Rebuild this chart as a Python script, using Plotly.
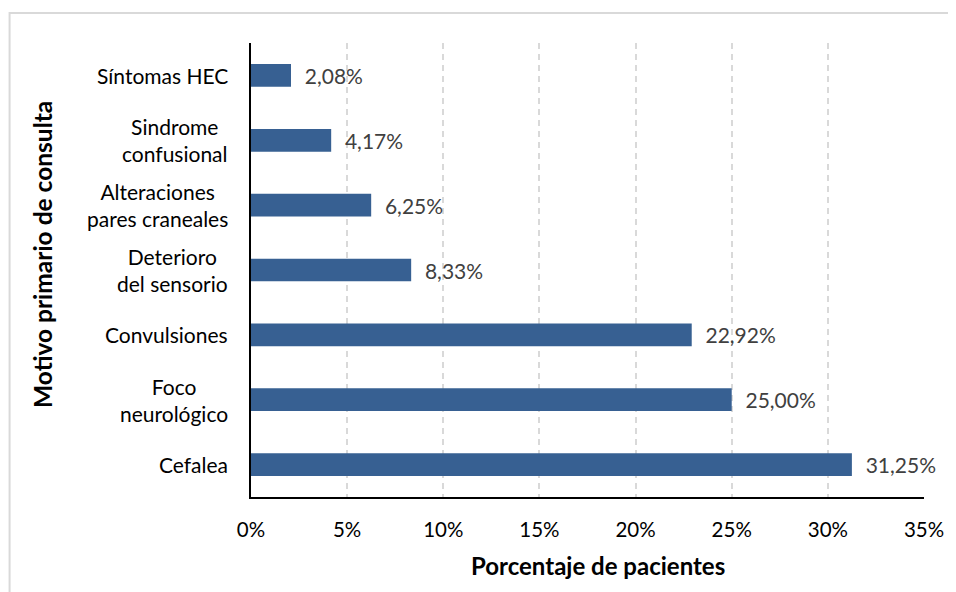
import plotly.graph_objects as go

categories = ["Cefalea", "Foco<br>neurológico", "Convulsiones", "Deterioro<br>del sensorio",
              "Alteraciones<br>pares craneales", "Sindrome<br>confusional", "Síntomas HEC"]
values = [31.25, 25.00, 22.92, 8.33, 6.25, 4.17, 2.08]
value_labels = ["31,25%", "25,00%", "22,92%", "8,33%", "6,25%", "4,17%", "2,08%"]
x_ticks = [0, 5, 10, 15, 20, 25, 30, 35]
x_tick_labels = ["0%", "5%", "10%", "15%", "20%", "25%", "30%", "35%"]

FONT = "Lato"
OFF = 8  # page body margin
W, H = 956 - OFF, 592 - OFF
L, T = 251 - OFF, 43 - OFF
R = W - (927 - OFF)
B = H - (497 - OFF)
pw, ph = W - L - R, H - T - B

def px(x):  # reference page pixel -> paper
    return (x - OFF - L) / pw

def py(y):
    return (H - B - (y - OFF)) / ph

fig = go.Figure()
fig.add_trace(go.Bar(
    y=categories, x=values, orientation="h",
    marker=dict(color="#376092", line=dict(width=0)),
    width=0.35,
    text=["  " + t for t in value_labels],
    textposition="outside",
    constraintext="none",
    textfont=dict(family=FONT, size=21, color="#404040"),
    cliponaxis=False,
))

annotations = []
for c in categories:
    annotations.append(dict(
        x=0, xref="paper", y=c, yref="y", xshift=-21,
        xanchor="right", yanchor="middle", align="center",
        text=c, showarrow=False,
        font=dict(family=FONT, size=21, color="#000000"),
    ))
annotations.append(dict(
    x=px(600), xref="paper", y=py(565), yref="paper",
    xanchor="center", yanchor="middle", text="<b>Porcentaje de pacientes</b>",
    showarrow=False, font=dict(family=FONT, size=24, color="#000000"),
))
annotations.append(dict(
    x=px(42), xref="paper", y=py(254), yref="paper",
    xanchor="center", yanchor="middle", text="<b>Motivo primario de consulta</b>",
    textangle=-90, showarrow=False, font=dict(family=FONT, size=24.5, color="#000000"),
))

fig.update_layout(
    width=W, height=H,
    margin=dict(l=L, r=R, t=T, b=B),
    paper_bgcolor="white", plot_bgcolor="white",
    showlegend=False,
    annotations=annotations,
    shapes=[dict(type="rect", xref="paper", yref="paper",
                 x0=px(8.5), x1=px(975), y0=py(620), y1=py(13),
                 line=dict(color="#D9D9D9", width=2), layer="below")],
    xaxis=dict(
        range=[0, 35], tickvals=x_ticks, ticktext=x_tick_labels,
        showgrid=True, gridcolor="#D9D9D9", gridwidth=1.5, griddash="6px,5px",
        zeroline=False, showline=True, linecolor="#000000", linewidth=1.5,
        ticks="", ticklabelstandoff=14,
        tickfont=dict(family=FONT, size=20.5, color="#000000"),
        fixedrange=True,
    ),
    yaxis=dict(
        categoryorder="array", categoryarray=categories,
        showticklabels=False, showgrid=False, zeroline=False,
        showline=True, linecolor="#000000", linewidth=1.5, ticks="",
        range=[-0.5, 6.5], fixedrange=True,
    ),
)

fig.write_html("out.html")
